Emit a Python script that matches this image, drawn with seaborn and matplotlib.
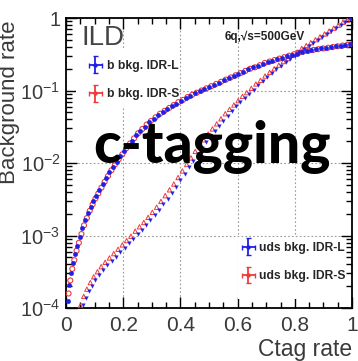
import numpy as np
import pandas as pd
import matplotlib
matplotlib.use("Agg")
import matplotlib.pyplot as plt
import seaborn as sns
from matplotlib.legend_handler import HandlerErrorbar
from matplotlib.patches import Rectangle
from matplotlib.ticker import FixedLocator, FixedFormatter, LogLocator, NullFormatter, MultipleLocator

# ---------------- data (y given as log10 of background rate) ----------------
b_L_x = [0.006, 0.012, 0.018, 0.025, 0.032, 0.040, 0.048, 0.057, 0.066, 0.076, 0.086, 0.096,
         0.106, 0.117, 0.128, 0.140, 0.152, 0.164, 0.177, 0.190, 0.203, 0.217, 0.231, 0.245,
         0.260, 0.275, 0.290, 0.306, 0.322, 0.338, 0.354, 0.370, 0.386, 0.402, 0.418, 0.434,
         0.450, 0.467, 0.484, 0.501, 0.518, 0.535, 0.552, 0.569, 0.586, 0.603, 0.620, 0.637,
         0.654, 0.671, 0.688, 0.705, 0.722, 0.739, 0.756, 0.773, 0.790, 0.807, 0.824, 0.841,
         0.858, 0.875, 0.892, 0.909, 0.926, 0.943, 0.960, 0.977, 0.994]
b_L_log = [-3.90, -3.68, -3.52, -3.38, -3.26, -3.14, -3.02, -2.90, -2.79, -2.69, -2.60, -2.52,
           -2.45, -2.37, -2.29, -2.21, -2.13, -2.05, -1.98, -1.91, -1.84, -1.76, -1.69, -1.62,
           -1.56, -1.50, -1.44, -1.39, -1.34, -1.30, -1.26, -1.22, -1.18, -1.14, -1.11, -1.07,
           -1.04, -1.01, -0.98, -0.95, -0.92, -0.89, -0.86, -0.83, -0.80, -0.77, -0.74, -0.71,
           -0.68, -0.66, -0.63, -0.61, -0.59, -0.57, -0.55, -0.53, -0.51, -0.49, -0.47, -0.45,
           -0.44, -0.43, -0.42, -0.41, -0.40, -0.39, -0.38, -0.37, -0.36]

b_S_x = [0.009, 0.015, 0.022, 0.029, 0.037, 0.045, 0.054, 0.063, 0.073, 0.083, 0.093, 0.103,
         0.113, 0.124, 0.135, 0.147, 0.159, 0.171, 0.184, 0.197, 0.210, 0.224, 0.238, 0.252,
         0.267, 0.282, 0.297, 0.313, 0.329, 0.345, 0.361, 0.377, 0.393, 0.409, 0.425, 0.441,
         0.457, 0.474, 0.491, 0.508, 0.525, 0.542, 0.559, 0.576, 0.593, 0.610, 0.627, 0.644,
         0.661, 0.678, 0.695, 0.712, 0.729, 0.746, 0.763, 0.780, 0.797, 0.814, 0.831, 0.848,
         0.865, 0.882, 0.899, 0.916, 0.933, 0.950, 0.967, 0.984, 1.000]
b_S_log = [-3.80, -3.62, -3.46, -3.34, -3.21, -3.10, -2.98, -2.86, -2.76, -2.66, -2.57, -2.49,
           -2.42, -2.34, -2.26, -2.18, -2.10, -2.02, -1.95, -1.88, -1.80, -1.73, -1.66, -1.59,
           -1.53, -1.47, -1.42, -1.37, -1.32, -1.28, -1.24, -1.20, -1.16, -1.13, -1.09, -1.06,
           -1.03, -1.00, -0.97, -0.94, -0.91, -0.88, -0.85, -0.82, -0.79, -0.76, -0.73, -0.70,
           -0.68, -0.65, -0.62, -0.60, -0.58, -0.56, -0.54, -0.52, -0.50, -0.48, -0.46, -0.45,
           -0.44, -0.43, -0.42, -0.41, -0.40, -0.39, -0.38, -0.37, -0.36]

uds_L_x = [0.060, 0.070, 0.080, 0.091, 0.103, 0.116, 0.130, 0.145, 0.160, 0.175, 0.190, 0.205,
           0.220, 0.235, 0.250, 0.265, 0.280, 0.295, 0.310, 0.325, 0.340, 0.355, 0.370, 0.385,
           0.400, 0.415, 0.430, 0.445, 0.460, 0.475, 0.490, 0.505, 0.520, 0.535, 0.550, 0.565,
           0.580, 0.595, 0.610, 0.625, 0.640, 0.656, 0.672, 0.688, 0.704, 0.720, 0.736, 0.752,
           0.768, 0.784, 0.800, 0.816, 0.832, 0.848, 0.864, 0.880, 0.896, 0.912, 0.928, 0.944,
           0.960, 0.976, 0.992]
uds_L_log = [-3.96, -3.86, -3.77, -3.69, -3.61, -3.54, -3.47, -3.41, -3.35, -3.29, -3.23, -3.17,
             -3.11, -3.05, -2.98, -2.92, -2.86, -2.79, -2.72, -2.65, -2.57, -2.49, -2.41, -2.33,
             -2.24, -2.15, -2.06, -1.97, -1.88, -1.79, -1.71, -1.63, -1.56, -1.49, -1.42, -1.35,
             -1.28, -1.22, -1.16, -1.10, -1.05, -0.99, -0.93, -0.87, -0.82, -0.76, -0.71, -0.66,
             -0.61, -0.57, -0.52, -0.47, -0.43, -0.38, -0.34, -0.30, -0.26, -0.22, -0.18, -0.14,
             -0.10, -0.06, -0.02]

uds_S_x = [0.050, 0.062, 0.073, 0.085, 0.097, 0.110, 0.123, 0.137, 0.152, 0.167, 0.182, 0.197,
           0.212, 0.227, 0.242, 0.257, 0.272, 0.287, 0.302, 0.317, 0.332, 0.347, 0.362, 0.377,
           0.392, 0.407, 0.422, 0.437, 0.452, 0.467, 0.482, 0.497, 0.512, 0.527, 0.542, 0.557,
           0.572, 0.587, 0.602, 0.617, 0.632, 0.648, 0.664, 0.680, 0.696, 0.712, 0.728, 0.744,
           0.760, 0.776, 0.792, 0.808, 0.824, 0.840, 0.856, 0.872, 0.888, 0.904, 0.920, 0.936,
           0.952, 0.968, 0.984, 1.000]
uds_S_log = [-3.97, -3.84, -3.74, -3.65, -3.57, -3.50, -3.43, -3.37, -3.31, -3.25, -3.19, -3.13,
             -3.07, -3.01, -2.94, -2.88, -2.82, -2.75, -2.68, -2.61, -2.53, -2.45, -2.37, -2.29,
             -2.20, -2.11, -2.02, -1.93, -1.84, -1.76, -1.68, -1.60, -1.53, -1.46, -1.39, -1.32,
             -1.26, -1.20, -1.14, -1.08, -1.03, -0.97, -0.91, -0.86, -0.80, -0.75, -0.70, -0.65,
             -0.60, -0.56, -0.51, -0.47, -0.42, -0.38, -0.34, -0.30, -0.26, -0.22, -0.18, -0.14,
             -0.10, -0.06, -0.03, 0.00]

series_labels = ["b bkg. IDR-L", "b bkg. IDR-S", "uds bkg. IDR-L", "uds bkg. IDR-S"]
x_ticks = [0, 0.2, 0.4, 0.6, 0.8, 1.0]
x_ticklabels = ["0", "0.2", "0.4", "0.6", "0.8", "1"]
y_ticks = [1e-4, 1e-3, 1e-2, 1e-1, 1]
y_ticklabels = ["$10^{-4}$", "$10^{-3}$", "$10^{-2}$", "$10^{-1}$", "1"]

# ---------------- style ----------------
sns.set_theme(style="ticks")
plt.rcParams["font.family"] = ["Liberation Sans", "DejaVu Sans"]
plt.rcParams["mathtext.fontset"] = "custom"
plt.rcParams["mathtext.rm"] = "Liberation Sans"
plt.rcParams["mathtext.it"] = "Liberation Sans:italic"
plt.rcParams["mathtext.bf"] = "Liberation Sans:bold"

BLUE = "#1f1fe6"
RED = "#f03a3a"
GREY = "#3a3a3a"

def frame(xs, logs):
    return pd.DataFrame({"ctag": xs, "rate": [10.0 ** v for v in logs]})

fig = plt.figure(figsize=(3.58, 3.61), dpi=100)
ax = fig.add_axes([66 / 358, 1 - 308 / 361, 286 / 358, 290 / 361])
ax.set_yscale("log")

# white legend backgrounds (hide grid)
ax.add_patch(Rectangle((0.035, 0.69), 0.36, 0.20, transform=ax.transAxes,
                       facecolor="white", edgecolor="none", zorder=1))
ax.add_patch(Rectangle((0.60, 0.03), 0.365, 0.215, transform=ax.transAxes,
                       facecolor="white", edgecolor="none", zorder=1))

sns.scatterplot(data=frame(b_S_x, b_S_log), x="ctag", y="rate", ax=ax, marker="o", s=13,
                facecolor="none", edgecolor=RED, linewidth=0.8, zorder=3)
sns.scatterplot(data=frame(b_L_x, b_L_log), x="ctag", y="rate", ax=ax, marker="o", s=11,
                facecolor=BLUE, edgecolor=BLUE, linewidth=0.2, zorder=4)
sns.scatterplot(data=frame(uds_S_x, uds_S_log), x="ctag", y="rate", ax=ax, marker="^", s=10,
                facecolor="none", edgecolor=RED, linewidth=0.7, zorder=3)
sns.scatterplot(data=frame(uds_L_x, uds_L_log), x="ctag", y="rate", ax=ax, marker="v", s=7,
                facecolor=BLUE, edgecolor=BLUE, linewidth=0.2, zorder=4)

ax.set_xlim(0, 1)
ax.set_ylim(1e-4, 1)

# axes / ticks
ax.xaxis.set_major_locator(FixedLocator(x_ticks))
ax.xaxis.set_major_formatter(FixedFormatter(x_ticklabels))
ax.xaxis.set_minor_locator(MultipleLocator(0.05))
ax.yaxis.set_major_locator(FixedLocator(y_ticks))
ax.yaxis.set_major_formatter(FixedFormatter(y_ticklabels))
ax.yaxis.set_minor_locator(LogLocator(base=10, subs=np.arange(2, 10)))
ax.yaxis.set_minor_formatter(NullFormatter())
ax.tick_params(which="both", direction="in", top=True, right=True, colors="black",
               labelcolor=GREY, width=1.0)
ax.tick_params(axis="x", labelsize=15)
ax.tick_params(axis="y", labelsize=14.5)
ax.tick_params(which="major", length=8, pad=6)
ax.tick_params(axis="y", which="major", pad=4)
ax.tick_params(which="minor", length=4)
for s in ax.spines.values():
    s.set_linewidth(1.3)
    s.set_color("black")

ax.grid(True, which="major", linestyle=(0, (1.5, 2)), color="#9a9a9a", linewidth=0.8)
ax.set_axisbelow(True)

ax.set_xlabel("Ctag rate", fontsize=16.5, color=GREY, loc="right", labelpad=2)
ax.set_ylabel("")
fig.text(-0.004, 1 - 102 / 361, "Background rate", rotation=90, fontsize=16, color=GREY,
         ha="left", va="center")

# texts
ax.text(0.055, 0.975, "ILD", transform=ax.transAxes, fontsize=20, color="#444444",
        ha="left", va="top")
ax.text(0.555, 0.935, "6q,\u221as=500GeV", transform=ax.transAxes,
        fontsize=8.5, fontweight="bold", color="#222222", ha="left", va="center")
ax.text(0.51, 0.555, "c-tagging", transform=ax.transAxes, fontsize=41, fontweight="black",
        family=["Lato", "DejaVu Sans"], color="black", ha="center", va="center", zorder=10)

# legends with error-bar style handles
h = []
for lab, col in zip(series_labels, [BLUE, RED, BLUE, RED]):
    h.append(ax.errorbar([np.nan], [np.nan], xerr=[0.1], yerr=[0.1], fmt="o", ms=2.2,
                         color=col, ecolor=col, elinewidth=1.3, capsize=1.8, label=lab))
hm = {type(h[0]): HandlerErrorbar(xerr_size=0.55, yerr_size=0.7)}
leg1 = ax.legend(handles=h[:2], loc="upper left", bbox_to_anchor=(0.077, 0.855),
                 frameon=False, prop=dict(weight="bold", size=8.7), handlelength=1.2,
                 handletextpad=0.4, labelspacing=1.35, borderpad=0, borderaxespad=0,
                 handler_map=hm)
ax.add_artist(leg1)
leg2 = ax.legend(handles=h[2:], loc="upper left", bbox_to_anchor=(0.612, 0.228),
                 frameon=False, prop=dict(weight="bold", size=8.7), handlelength=1.2,
                 handletextpad=0.3, labelspacing=1.35, borderpad=0, borderaxespad=0,
                 handler_map=hm)

fig.savefig("out.png", dpi=100)
